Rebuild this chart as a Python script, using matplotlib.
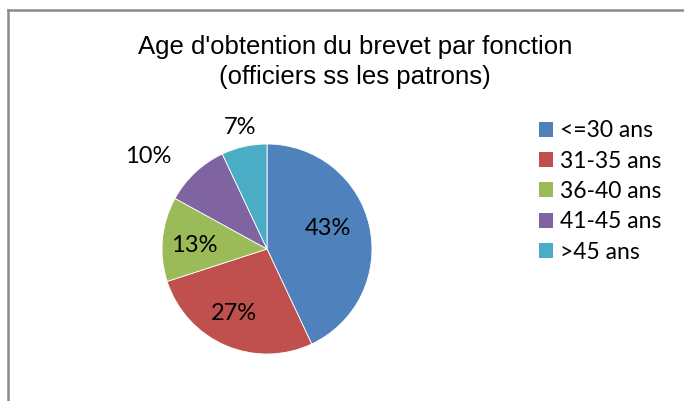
import matplotlib
matplotlib.use("Agg")
import matplotlib.pyplot as plt
import numpy as np
from matplotlib.lines import Line2D
from matplotlib.patches import Patch

# données du graphique
categories = ["<=30 ans", "31-35 ans", "36-40 ans", "41-45 ans", ">45 ans"]
values = [43, 27, 13, 10, 7]
colors = ["#4f81bd", "#c0504d", "#9bbb59", "#8064a2", "#4bacc6"]
title = "Age d'obtention du brevet par fonction\n(officiers ss les patrons)"

W, H = 684, 401
fig = plt.figure(figsize=(W / 100, H / 100), dpi=100)

# cadre gris (coin haut-gauche seulement visible)
fig.add_artist(Line2D([8 / W, 8 / W], [0, 1 - 10 / H], color="#8a8a8a", lw=1.8))
fig.add_artist(Line2D([8 / W, 1], [1 - 10 / H, 1 - 10 / H], color="#8a8a8a", lw=1.8))

fig.text(355 / W, 1 - 62 / H, title, ha="center", va="center",
         fontsize=18.5, family="Liberation Sans", linespacing=1.32)

cx, cy, r = 267, 249, 105
ax = fig.add_axes([(cx - r) / W, (H - cy - r) / H, 2 * r / W, 2 * r / H])
wedges, _ = ax.pie(values, colors=colors, startangle=90, counterclock=False,
                   radius=1, wedgeprops=dict(edgecolor="white", linewidth=0.6))
ax.set_xlim(-1, 1)
ax.set_ylim(-1, 1)
ax.axis("off")

# position des étiquettes (rayon relatif, décalage angulaire)
label_pos = [(0.61, 6), (0.69, -4), (0.69, 3), (1.43, 9), (1.19, 0)]
for w, v, (rr, da) in zip(wedges, values, label_pos):
    ang = np.deg2rad((w.theta1 + w.theta2) / 2 + da)
    ax.text(rr * np.cos(ang), rr * np.sin(ang), f"{v}%", ha="center", va="center",
            fontsize=17, family="Lato", color="black")

handles = [Patch(facecolor=c, edgecolor="none") for c in colors]
fig.legend(handles, categories, loc="upper left",
           bbox_to_anchor=(530 / W, 1 - 111 / H), frameon=False,
           prop=dict(family="Lato", size=16.5), handlelength=0.62, handleheight=0.62,
           handletextpad=0.3, labelspacing=0.41, borderaxespad=0)

fig.savefig("out.png", dpi=100)
